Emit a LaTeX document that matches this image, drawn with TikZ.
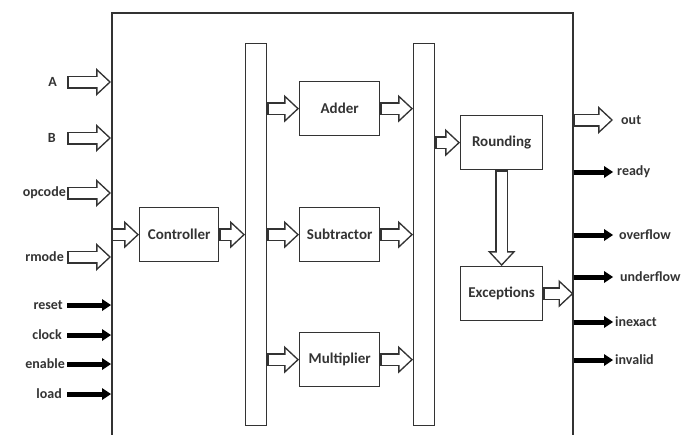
\documentclass[tikz,border=0pt]{standalone}
\usepackage{fontspec}
\setmainfont{Carlito}
\usepackage{tikz}
\usetikzlibrary{arrows.meta}
\tikzset{
box/.style = {rectangle, draw=black!80, line width=1.3pt, minimum width=#1, minimum height=54pt, anchor=north west, inner sep=0pt, text=black!80, font=\bfseries\fontsize{15}{17}\selectfont},
box/.default = 80pt, % width of the unit boxes
bus/.style = {rectangle, draw=black!80, line width=1.3pt, minimum width=21pt, minimum height=382pt, anchor=north west},
lbl/.style = {inner sep=0pt, text=black!80, font=\bfseries\fontsize{14}{16}\selectfont},
hollow/.style = {draw=black!80, line width=13pt, -{Triangle[length=15pt, width=28pt, line width=0pt]},
  postaction={draw=white, line width=10pt, shorten >=2.2pt, shorten <=1.5pt, -{Triangle[length=11.3pt, width=21.1pt, line width=0pt]}}},
wire/.style = {draw=black, line width=5pt, -{Triangle[length=9pt, width=12pt, line width=0pt]}},
}

\begin{document}
\begin{tikzpicture}[x=1pt, y=-1pt]
    \useasboundingbox (0,0) rectangle (692,434);
    \node[rectangle, draw=black!80, line width=1.5pt, minimum width=461pt, minimum height=430pt, anchor=north west] (fpu) at (111,12) {};

    \node[bus] (busIn) at (245,43) {};
    \node[bus] (busOut) at (413,43) {};
    \node[box=79pt] (ctrl) at (139,207) {Controller};
    \node[box] (adder) at (299,81) {Adder};
    \node[box] (sub) at (299,207) {Subtractor};
    \node[box] (mult) at (299,332) {Multiplier};
    \node[box=82pt] (round) at (460,115) {Rounding};
    \node[box=82pt] (exc) at (460,266) {Exceptions};

    % inputs
    \node[lbl, anchor=east] (aLbl) at (57,82) {A};
    \node[lbl, anchor=east] (bLbl) at (56,138) {B};
    \node[lbl, anchor=east] (opLbl) at (66,193) {opcode};
    \node[lbl, anchor=east] (rmLbl) at (64,257) {rmode};
    \node[lbl, anchor=east] (rstLbl) at (63,305) {reset};
    \node[lbl, anchor=east] (clkLbl) at (62,335) {clock};
    \node[lbl, anchor=east] (enLbl) at (65,364) {enable};
    \node[lbl, anchor=east] (ldLbl) at (62,394) {load};
    \coordinate (aIn) at (67,82);
    \coordinate (bIn) at (67,138);
    \coordinate (opIn) at (67,193);
    \coordinate (rmIn) at (67,257);
    \coordinate (rstIn) at (67,305);
    \coordinate (clkIn) at (67,335);
    \coordinate (enIn) at (67,364);
    \coordinate (ldIn) at (67,394);
    \draw[hollow] (aIn) -- (aIn -| fpu.west);
    \draw[hollow] (bIn) -- (bIn -| fpu.west);
    \draw[hollow] (opIn) -- (opIn -| fpu.west);
    \draw[hollow] (rmIn) -- (rmIn -| fpu.west);
    \draw[wire] (rstIn) -- (rstIn -| fpu.west);
    \draw[wire] (clkIn) -- (clkIn -| fpu.west);
    \draw[wire] (enIn) -- (enIn -| fpu.west);
    \draw[wire] (ldIn) -- (ldIn -| fpu.west);

    % datapath
    \draw[hollow] (ctrl.west -| fpu.west) -- (ctrl.west);
    \draw[hollow] (ctrl.east) -- (ctrl.east -| busIn.west);
    \draw[hollow] (adder.west -| busIn.east) -- (adder.west);
    \draw[hollow] (sub.west -| busIn.east) -- (sub.west);
    \draw[hollow] (mult.west -| busIn.east) -- (mult.west);
    \draw[hollow] (adder.east) -- (adder.east -| busOut.west);
    \draw[hollow] (sub.east) -- (sub.east -| busOut.west);
    \draw[hollow] (mult.east) -- (mult.east -| busOut.west);
    \draw[hollow] (round.west -| busOut.east) -- (round.west);
    \draw[hollow] (round.south) -- (exc.north);
    \draw[hollow] (exc.east) -- (exc.east -| fpu.east);

    % outputs
    \coordinate (outEnd) at (613,120);
    \coordinate (rdyEnd) at (613,172);
    \coordinate (ovfEnd) at (613,235);
    \coordinate (unfEnd) at (613,277);
    \coordinate (inxEnd) at (613,322);
    \coordinate (invEnd) at (613,360);
    \node[lbl, anchor=west] (outLbl) at (621,120) {out};
    \node[lbl, anchor=west] (rdyLbl) at (617,172) {ready};
    \node[lbl, anchor=west] (ovfLbl) at (619,235) {overflow};
    \node[lbl, anchor=west] (unfLbl) at (620,277) {underflow};
    \node[lbl, anchor=west] (inxLbl) at (615,322) {inexact};
    \node[lbl, anchor=west] (invLbl) at (615,360) {invalid};
    \draw[hollow] (outEnd -| fpu.east) -- (outEnd);
    \draw[wire] (rdyEnd -| fpu.east) -- (rdyEnd);
    \draw[wire] (ovfEnd -| fpu.east) -- (ovfEnd);
    \draw[wire] (unfEnd -| fpu.east) -- (unfEnd);
    \draw[wire] (inxEnd -| fpu.east) -- (inxEnd);
    \draw[wire] (invEnd -| fpu.east) -- (invEnd);
\end{tikzpicture}
\end{document}
